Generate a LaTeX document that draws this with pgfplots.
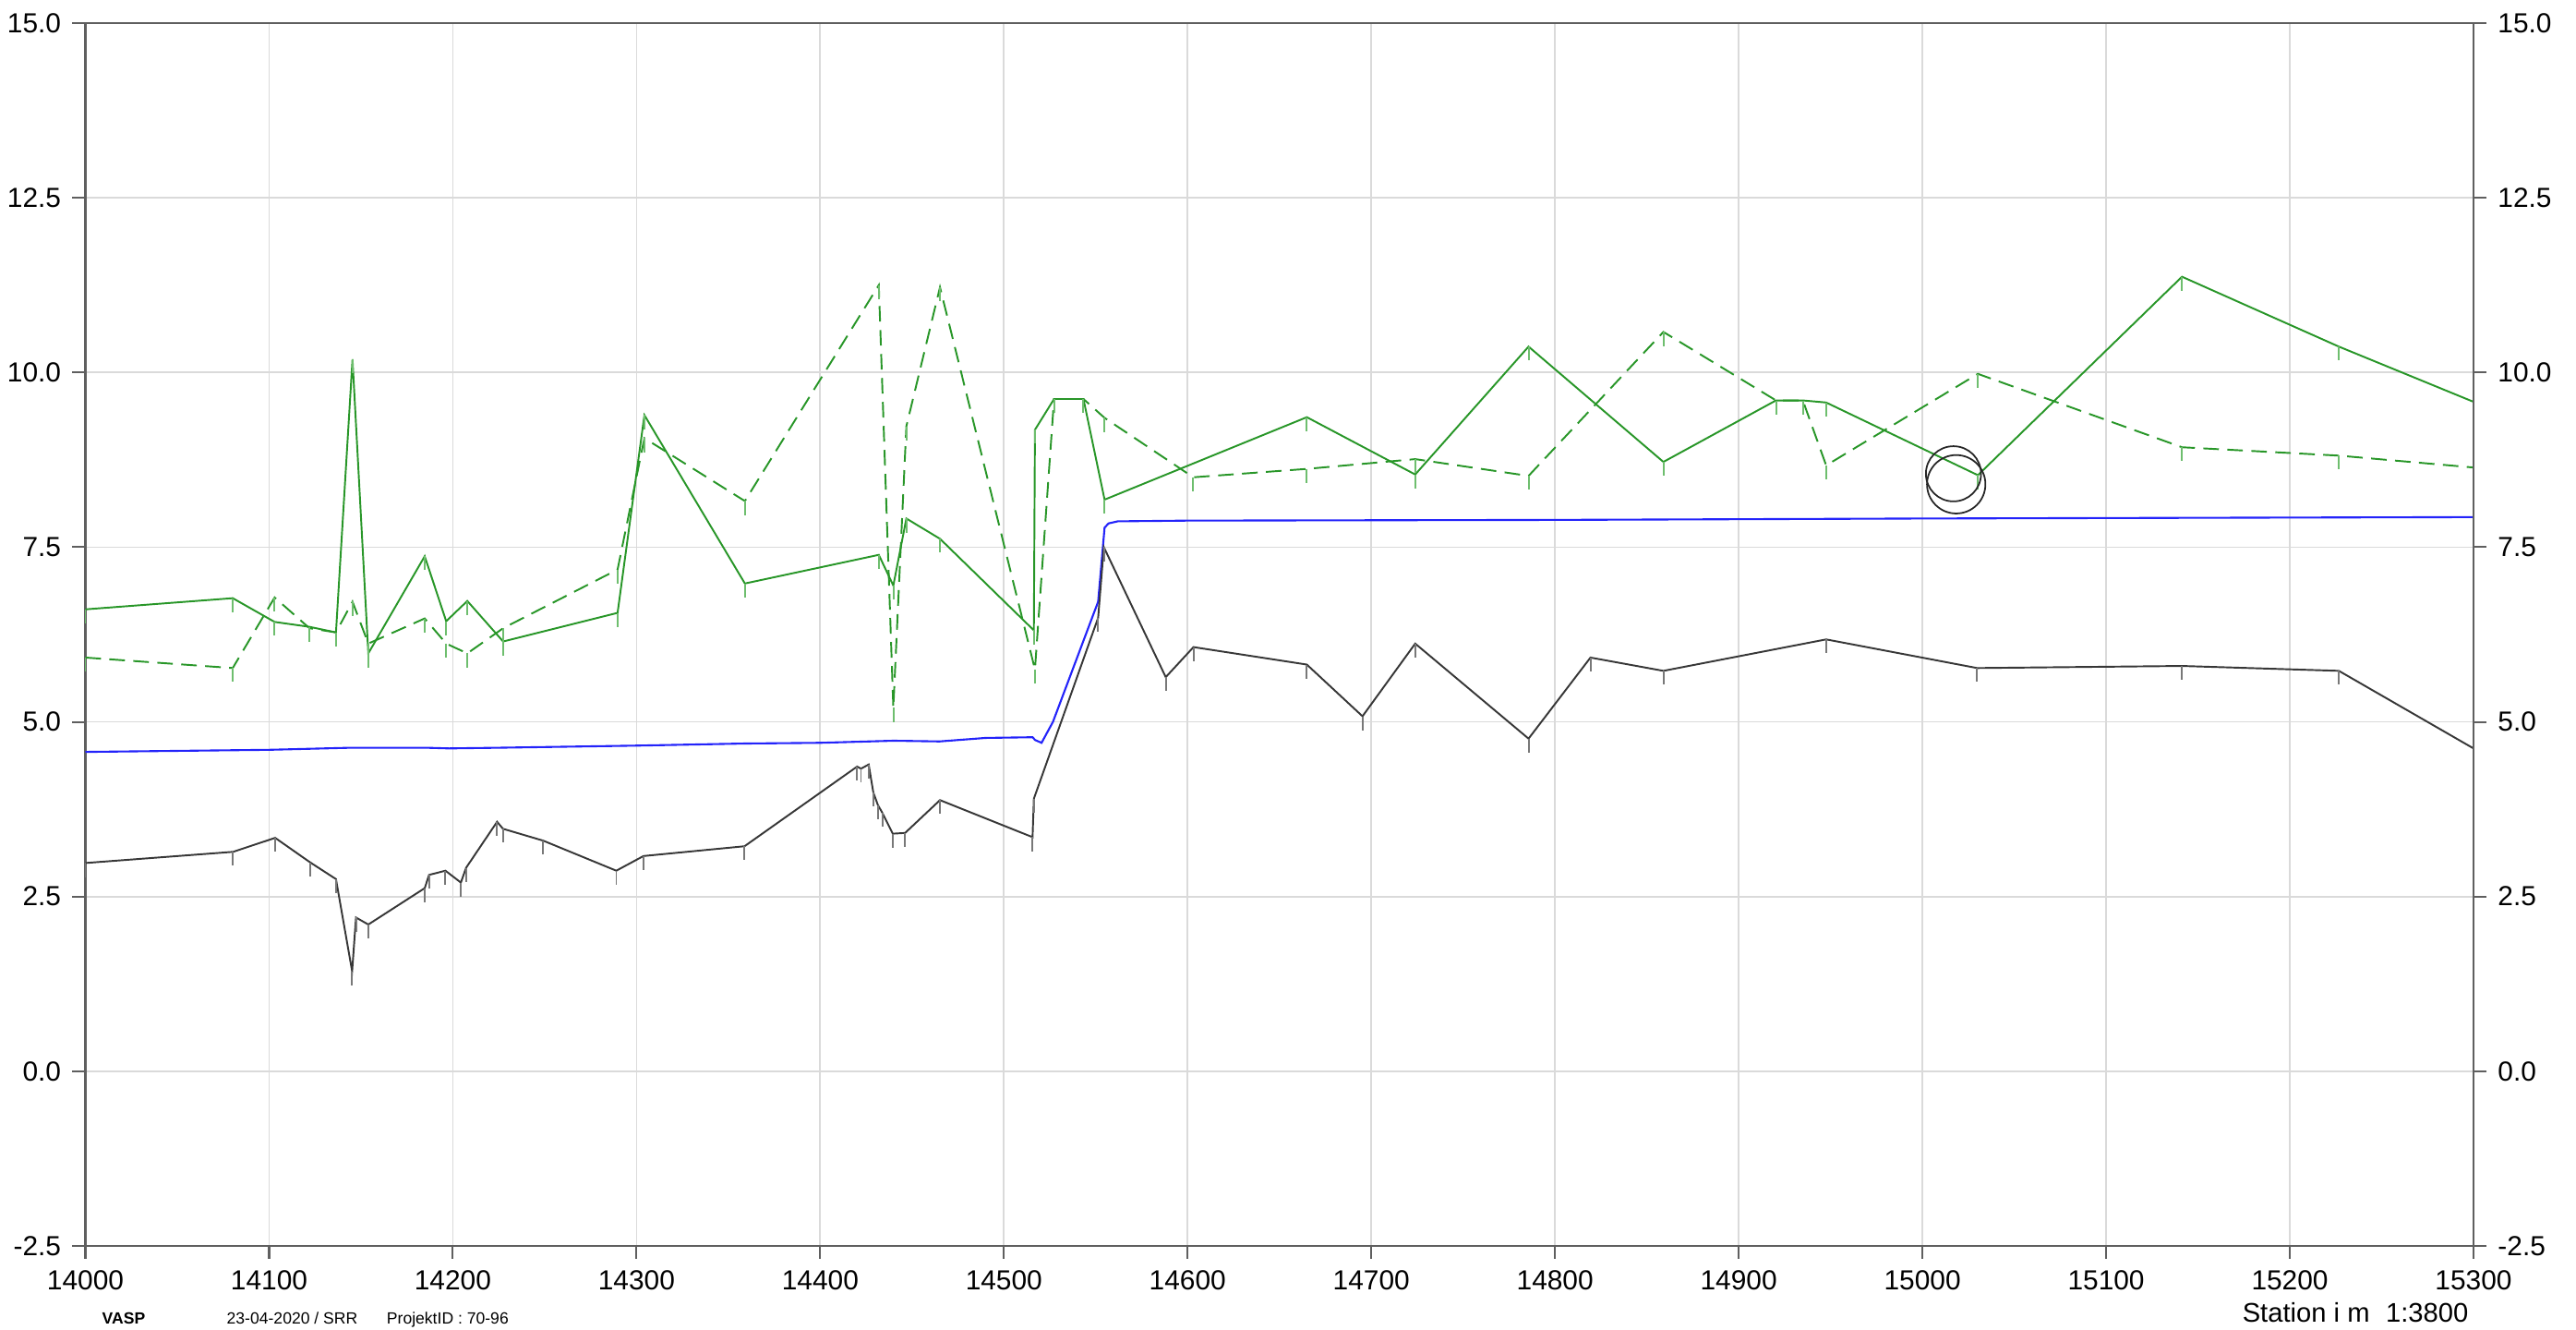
\documentclass[border=0pt]{standalone}
\usepackage{pgfplots}
\pgfplotsset{compat=1.18}
\usepackage{fontspec}
\setmainfont{Liberation Sans}
\definecolor{gline}{RGB}{40,150,40}
\definecolor{gtick}{RGB}{110,190,110}
\definecolor{kline}{RGB}{55,55,55}
\definecolor{ktick}{RGB}{120,120,120}
\definecolor{bline}{RGB}{35,35,250}
\definecolor{gridc}{RGB}{218,218,218}
\definecolor{axc}{RGB}{95,95,95}
\pgfdeclareplotmark{dtick}{%
  \pgfpathmoveto{\pgfpointorigin}%
  \pgfpathlineto{\pgfpoint{0pt}{-\pgfplotmarksize}}%
  \pgfusepathqstroke}

\pgfplotstableread{
x y
14000 6.61
14080.2 6.77
14103 6.43
14122 6.36
14136.4 6.28
14145.4 10.19
14154 5.98
14184.7 7.37
14196.4 6.44
14207.9 6.73
14227.4 6.15
14289.7 6.56
14304.3 9.39
14359 6.98
14431.9 7.39
14439.8 6.95
14446.9 7.91
14465.2 7.62
14516.3 6.31
14516.9 9.18
14527.3 9.62
14543.3 9.62
14554.8 8.18
14664.9 9.36
14723.9 8.54
14785.6 10.37
14859 8.72
14920.3 9.60
14934.9 9.60
14947.6 9.57
15030.2 8.53
15141.3 11.37
15226.7 10.37
15300 9.58
}\greensolid

\pgfplotstableread{
x y
14000 5.92
14080.2 5.77
14103 6.78
14122 6.34
14136.4 6.28
14145.4 6.72
14154 6.12
14184.7 6.48
14196.4 6.12
14207.9 5.98
14227.4 6.34
14289.7 7.18
14304.3 9.06
14359 8.16
14431.9 11.25
14439.8 5.2
14446.9 9.23
14465.2 11.22
14516.9 5.75
14527.3 9.62
14543.3 9.62
14554.8 9.35
14603.1 8.50
14664.9 8.62
14723.9 8.76
14785.6 8.52
14859 10.58
14920.3 9.60
14934.9 9.60
14947.6 8.67
15030.2 9.98
15141.3 8.93
15226.7 8.81
15300 8.64
}\greendashed

\pgfplotstableread{
x y
14000 2.98
14080.4 3.14
14103.3 3.34
14122.3 2.99
14136.4 2.75
14145.2 1.43
14147.3 2.20
14154 2.10
14184.7 2.62
14187.1 2.81
14196 2.87
14204.4 2.70
14207.2 2.91
14224.1 3.57
14227.3 3.47
14249.2 3.30
14289 2.87
14303.8 3.08
14358.8 3.22
14420.1 4.36
14422.2 4.33
14426.4 4.39
14428.9 3.99
14431.4 3.81
14433.8 3.70
14439.5 3.40
14446.2 3.41
14465.2 3.88
14515.6 3.35
14516.3 3.90
14551.3 6.49
14554.4 7.50
14588.1 5.64
14603.2 6.07
14664.9 5.82
14695.2 5.08
14723.9 6.12
14785.6 4.76
14819.3 5.92
14859 5.73
14947.6 6.18
15029.8 5.77
15141.3 5.80
15226.7 5.73
15300 4.62
}\blackline

\pgfplotstableread{
x y
14000 4.57
14100 4.60
14145 4.63
14185 4.63
14198 4.62
14226 4.63
14300 4.66
14359 4.69
14400 4.70
14440 4.73
14465 4.72
14490 4.77
14515.6 4.78
14517 4.74
14520.5 4.70
14526.7 5.00
14551.3 6.72
14554.8 7.78
14557 7.84
14562 7.87
14600 7.88
14800 7.89
15000 7.91
15300 7.93
}\blueline

\begin{document}
\begin{tikzpicture}
\useasboundingbox (0,0) rectangle (27.9cm,14.4cm);
\pgfplotsset{
  common/.style={
    at={(0.925cm,0.91cm)}, anchor=south west,
    scale only axis, width=25.865cm, height=13.24cm,
    xmin=14000, xmax=15300, ymin=-2.5, ymax=15,
    xtick={14000,14100,...,15300},
    ytick={-2.5,0,2.5,5,7.5,10,12.5,15},
    scaled x ticks=false, scaled y ticks=false,
    axis line style={axc, line width=0.6pt},
    tick style={axc, line width=0.6pt},
    tick align=outside, major tick length=0.14cm,
    tick label style={font=\fontsize{8.5}{10}\selectfont, text=black},
    /pgf/number format/assume math mode=true,
    xticklabel style={/pgf/number format/1000 sep={}},
    yticklabel style={/pgf/number format/.cd, fixed, fixed zerofill, precision=1},
  }
}
\begin{axis}[common,
  grid=major, grid style={gridc, line width=0.5pt},
  xtick pos=bottom, ytick pos=left,
  xlabel={Station i m\hspace{0.6em}1:3800},
  xlabel style={at={(rel axis cs:1,0)}, anchor=base east, inner sep=0pt,
    yshift=-0.83cm, xshift=-0.05cm, font=\fontsize{8.3}{10}\selectfont},
]
\addplot[bline, line width=0.6pt] table {\blueline};
\addplot[kline, line width=0.55pt, mark=dtick, mark size=4.3pt,
  mark options={ktick, line width=0.55pt}] table {\blackline};
\addplot[gline, line width=0.55pt, dash pattern=on 4.8pt off 2.6pt, mark=dtick, mark size=4.3pt,
  mark options={gtick, solid, line width=0.55pt}] table {\greendashed};
\addplot[gline, line width=0.55pt, mark=dtick, mark size=4.3pt,
  mark options={gtick, line width=0.55pt}] table {\greensolid};
\addplot[only marks, mark=o, mark size=8.5pt, mark options={draw=black!85, line width=0.5pt}]
  coordinates {(15016.9,8.55)};
\addplot[only marks, mark=o, mark size=9pt, mark options={draw=black!85, line width=0.5pt}]
  coordinates {(15018.4,8.40)};
\end{axis}
\begin{axis}[common,
  hide x axis, axis y line*=right,
  ytick pos=right, yticklabel pos=right,
]
\end{axis}
\node[anchor=base west, inner sep=0pt, font=\fontsize{5}{6}\selectfont\bfseries] at (1.10cm,0.06cm) {VASP};
\node[anchor=base west, inner sep=0pt, font=\fontsize{5}{6}\selectfont] at (2.45cm,0.06cm) {23-04-2020 / SRR\hspace{1.8em}ProjektID : 70-96};
\end{tikzpicture}
\end{document}
